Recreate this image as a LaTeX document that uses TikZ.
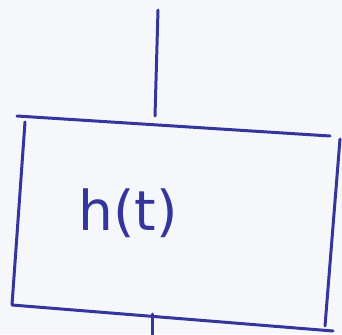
\documentclass[tikz,border=0pt]{standalone}
\usepackage{fontspec}
\setmainfont{DejaVu Sans}
\definecolor{ink}{RGB}{52,54,158}
\definecolor{paper}{RGB}{246,247,250}
\tikzset{
  pen/.style={draw=ink, line width=3pt, line cap=round, line join=round},
  label/.style={text=ink, font=\fontsize{55}{60}\selectfont, inner sep=0pt}
}
\begin{document}
\begin{tikzpicture}[x=1pt,y=-1pt]
  \fill[paper] (0,0) rectangle (342,334);
  \useasboundingbox (0,0) rectangle (342,334);
  % box corners
  \coordinate (tl) at (17,116);
  \coordinate (tl2) at (25,122);
  \coordinate (tr) at (330,136);
  \coordinate (rt) at (340,139);
  \coordinate (rb) at (325,326);
  \coordinate (bl) at (12,305);
  \coordinate (br) at (333,331);
  % connectors
  \coordinate (inA) at (158,10);
  \coordinate (inB) at (155,116);
  \coordinate (outA) at (152,314);
  \coordinate (outB) at (152,340);
  \draw[pen] (tl) -- (tr);
  \draw[pen] (tl2) -- (bl) -- (br);
  \draw[pen] (rt) -- (rb);
  \draw[pen] (inA) -- (inB);
  \draw[pen] (outA) -- (outB);
  \node[label] (h) at (128,213) {h(t)};
\end{tikzpicture}
\end{document}
